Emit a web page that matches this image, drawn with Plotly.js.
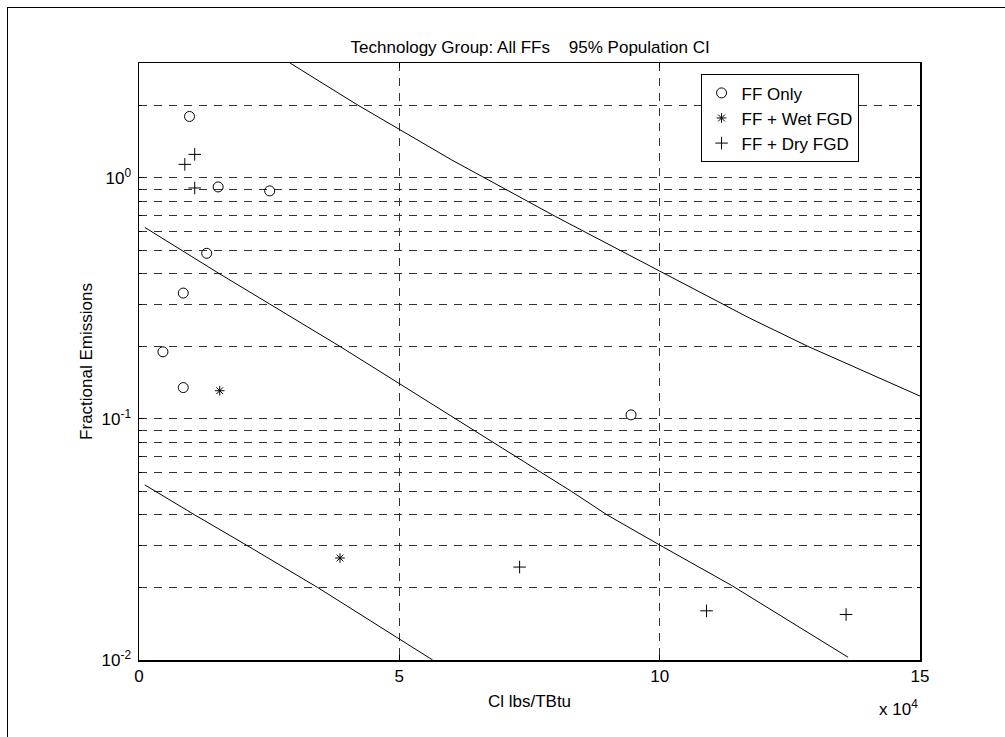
<!DOCTYPE html>
<html>
<head>
<meta charset="utf-8">
<script src="https://cdn.plot.ly/plotly-3.0.1.min.js"></script>
<style>
  html, body { margin: 0; padding: 0; background: #fff; overflow: hidden; }
  #plot { width: 1005px; height: 737px; }
  #frame { position: absolute; left: 7px; top: 7px; width: 1100px; height: 900px;
           border-left: 1.5px solid #000; border-top: 1.5px solid #000; pointer-events: none; }
</style>
</head>
<body>
<div id="plot"></div>
<div id="frame"></div>
<script>
// Data (x in units of 10^4 lbs/TBtu, y = fractional emissions)
const ffOnlyX = [0.97, 1.52, 2.51, 1.30, 0.85, 0.46, 0.85, 9.45];
const ffOnlyY = [1.80, 0.918, 0.884, 0.487, 0.333, 0.190, 0.135, 0.104];

const ffWetX = [1.55, 3.86];
const ffWetY = [0.131, 0.0265];

const ffDryX = [1.07, 0.88, 1.07, 7.31, 10.90, 13.58];
const ffDryY = [1.253, 1.139, 0.909, 0.0243, 0.0160, 0.01545];

// Fitted line and 95% population interval bounds
const fitX = [0.11, 1.55, 2.51, 3.86, 8.31, 8.99, 10.0, 11.38, 13.62];
const fitY = [0.624, 0.40, 0.30, 0.20, 0.05, 0.04, 0.03, 0.0204, 0.01026];

const upperX = [2.90, 4.18, 6.0, 8.0, 10.0, 11.73, 12.85, 15.0];
const upperY = [3.00, 2.02, 1.19, 0.692, 0.411, 0.262, 0.20, 0.1245];

const lowerX = [0.11, 1.07, 2.06, 3.43, 5.64];
const lowerY = [0.0533, 0.040, 0.030, 0.020, 0.0100];

const xTicks = [0, 5, 10, 15];
const yMajor = [0.01, 0.1, 1];
const yMajorText = ['10<sup>-2</sup>', '10<sup>-1</sup>', '10<sup>0</sup>'];
const yMinor = [0.02, 0.03, 0.04, 0.05, 0.06, 0.07, 0.08, 0.09,
                0.2, 0.3, 0.4, 0.5, 0.6, 0.7, 0.8, 0.9, 2, 3];

const FONT = 'Liberation Sans, Arial, Helvetica, sans-serif';
const FS = 17;
const gridDash = '8px,7px';
const gridColor = '#333';

const lineStyle = {color: '#000', width: 1};
const traces = [
  {x: ffOnlyX, y: ffOnlyY, mode: 'markers', name: 'FF Only',
   marker: {symbol: 'circle-open', size: 10, color: '#000', line: {width: 1}}},
  {x: ffWetX, y: ffWetY, mode: 'markers', name: 'FF + Wet FGD',
   marker: {symbol: 'asterisk-open', size: 8, color: '#000', line: {width: 1}}},
  {x: ffDryX, y: ffDryY, mode: 'markers', name: 'FF + Dry FGD',
   marker: {symbol: 'cross-thin-open', size: 9, color: '#000', line: {width: 1}}},
  {x: upperX, y: upperY, mode: 'lines', line: lineStyle, showlegend: false, hoverinfo: 'skip'},
  {x: fitX, y: fitY, mode: 'lines', line: lineStyle, showlegend: false, hoverinfo: 'skip'},
  {x: lowerX, y: lowerY, mode: 'lines', line: lineStyle, showlegend: false, hoverinfo: 'skip'}
];

const layout = {
  width: 1005, height: 737,
  margin: {l: 139, r: 85, t: 63, b: 77},
  paper_bgcolor: '#fff', plot_bgcolor: '#fff',
  font: {family: FONT, size: FS, color: '#000'},
  title: {text: 'Technology Group: All FFs&nbsp;&nbsp;&nbsp;&nbsp;95% Population CI',
          font: {family: FONT, size: FS, color: '#000'},
          x: 0.5275, xanchor: 'center', y: 1 - 47/737, yanchor: 'middle'},
  showlegend: true,
  legend: {x: 0.719, y: 0.981, xanchor: 'left', yanchor: 'top',
           bgcolor: '#fff', bordercolor: '#000', borderwidth: 1,
           font: {family: FONT, size: FS, color: '#000'},
           tracegroupgap: 0, itemwidth: 30},
  xaxis: {
    range: [0, 15], tickvals: xTicks, ticktext: xTicks.map(String),
    showgrid: true, gridcolor: gridColor, griddash: gridDash, gridwidth: 1,
    zeroline: false, showline: true, linecolor: '#000', linewidth: 1.5, mirror: 'ticks',
    ticks: 'inside', ticklen: 5, tickcolor: '#000',
    tickfont: {family: FONT, size: FS, color: '#000'},
    title: {text: 'Cl lbs/TBtu', font: {family: FONT, size: FS, color: '#000'}, standoff: 10}
  },
  yaxis: {
    type: 'log', range: [-2, Math.log10(3)],
    tickvals: yMajor, ticktext: yMajorText,
    showgrid: true, gridcolor: gridColor, griddash: gridDash, gridwidth: 1,
    zeroline: false, showline: true, linecolor: '#000', linewidth: 1.5, mirror: 'ticks',
    ticks: 'inside', ticklen: 5, tickcolor: '#000', ticklabelstandoff: 3,
    tickfont: {family: FONT, size: FS, color: '#000'},
    minor: {tickvals: yMinor, showgrid: true, gridcolor: gridColor, griddash: gridDash,
            gridwidth: 1, ticks: 'inside', ticklen: 3, tickcolor: '#000'},
    title: {text: 'Fractional Emissions', font: {family: FONT, size: FS, color: '#000'}, standoff: 4}
  },
  annotations: [
    {xref: 'paper', yref: 'paper', x: 1.0, y: -0.08, xanchor: 'right', yanchor: 'middle',
     text: 'x 10<sup>4</sup>', showarrow: false, font: {family: FONT, size: FS, color: '#000'}}
  ]
};

Plotly.newPlot('plot', traces, layout, {displayModeBar: false, staticPlot: true});
</script>
</body>
</html>
